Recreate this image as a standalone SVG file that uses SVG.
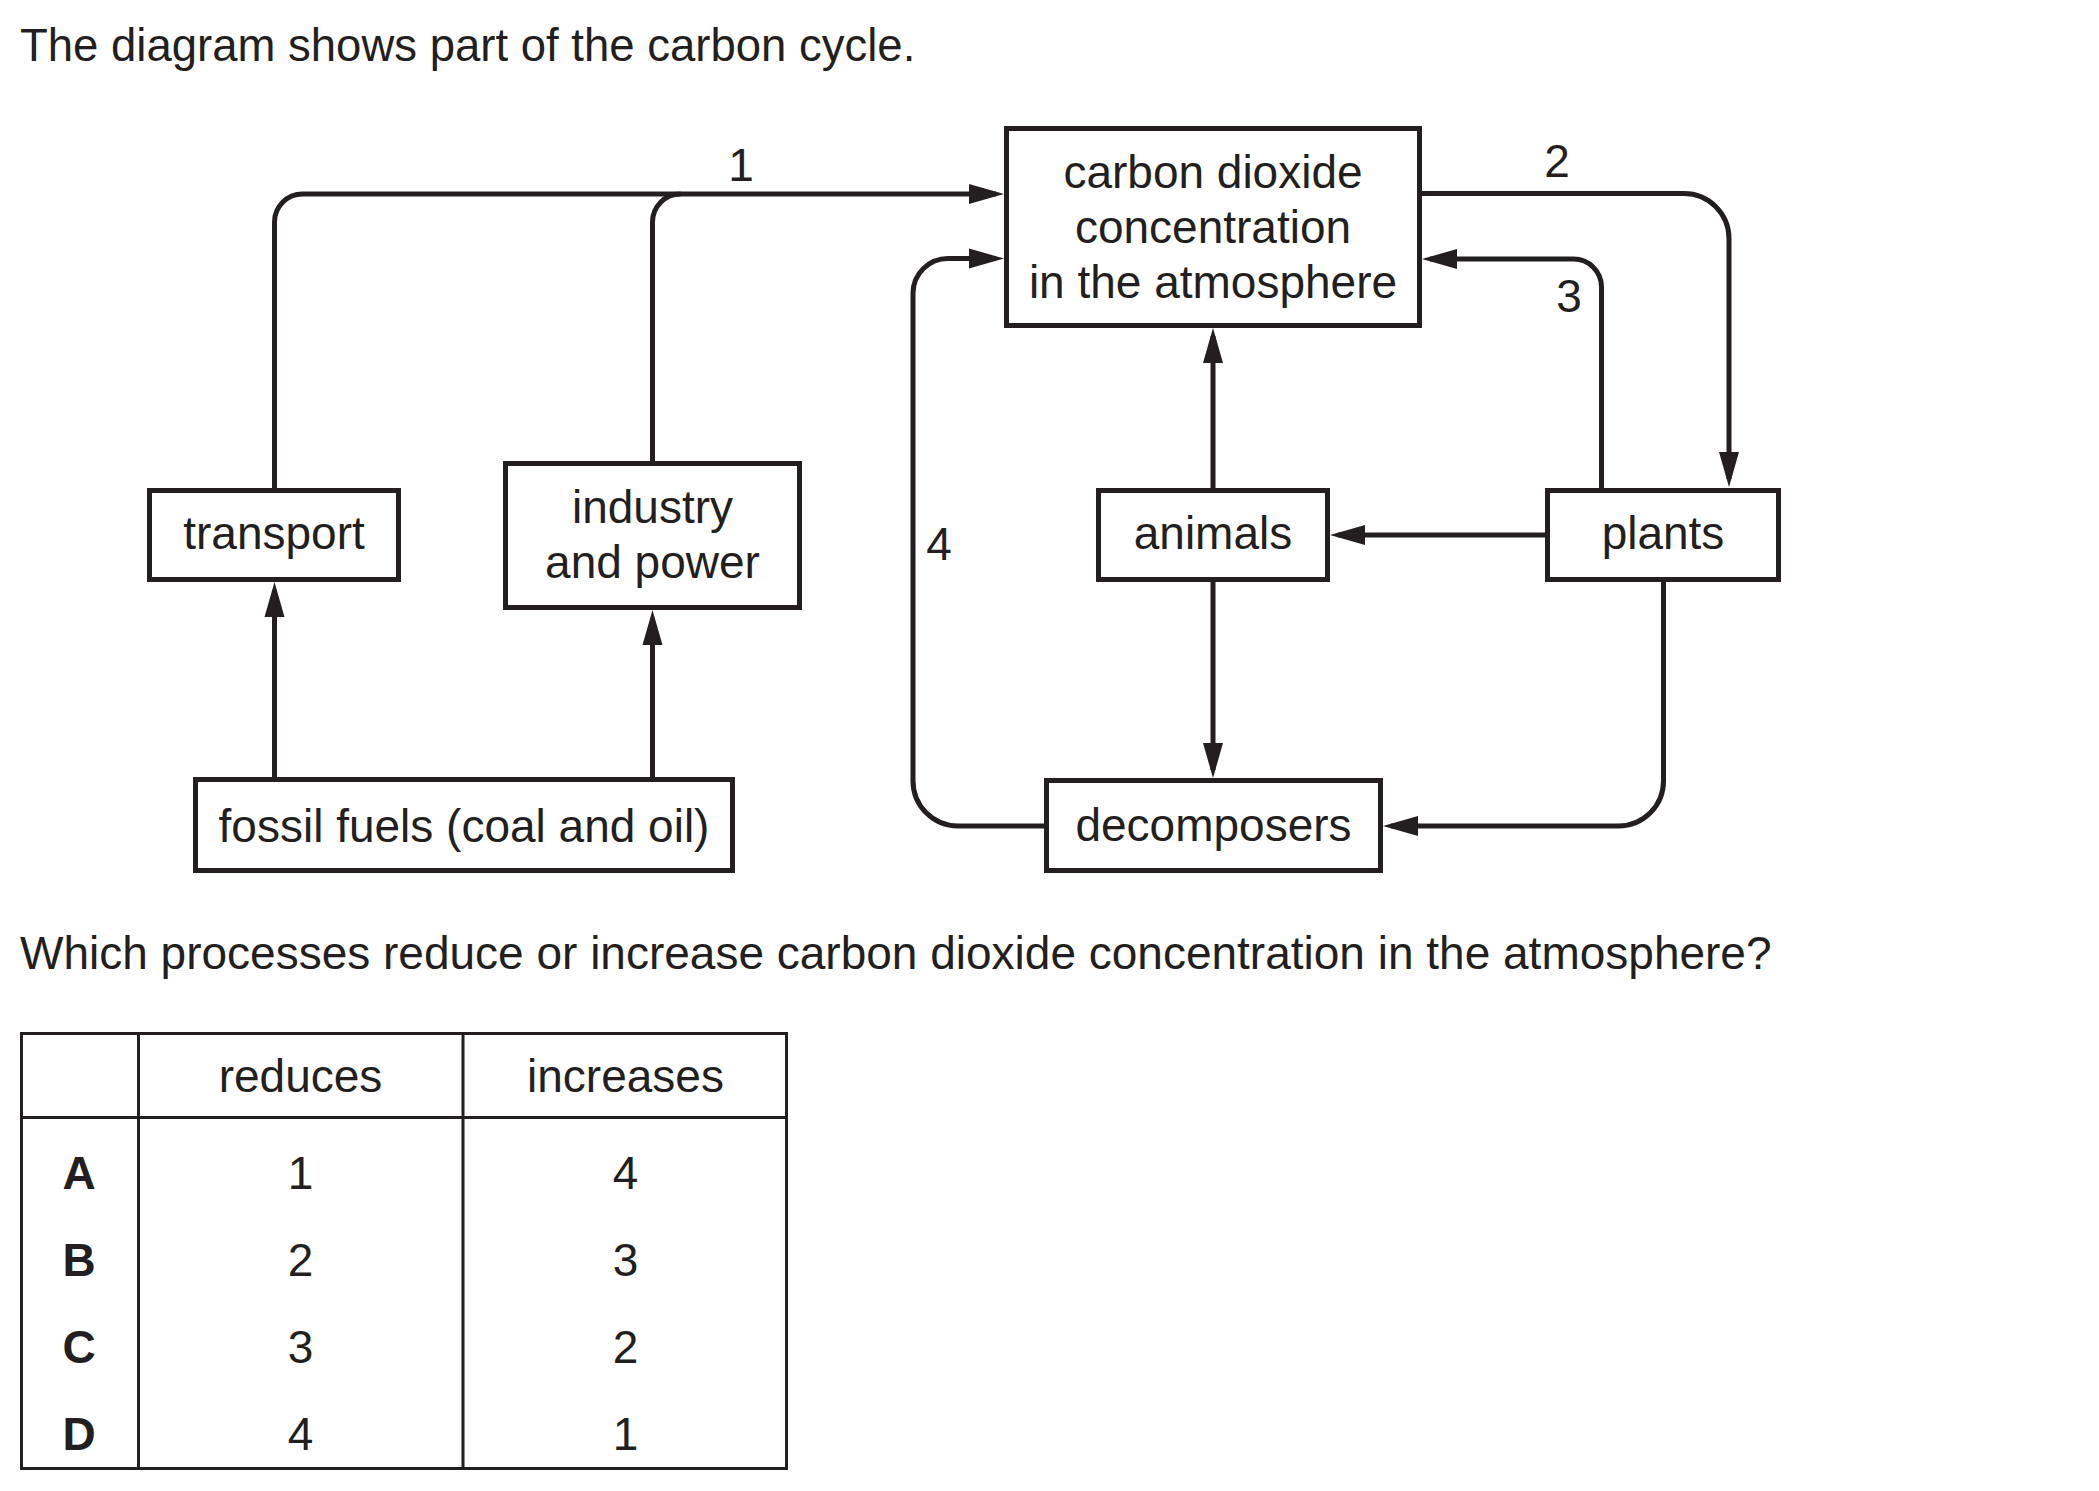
<svg xmlns="http://www.w3.org/2000/svg" width="2099" height="1491" viewBox="0 0 2099 1491">
<style>
text{font-family:"Liberation Sans",Arial,Helvetica,sans-serif;font-size:46px;fill:#231f20}
.c{text-anchor:middle}
.b{font-weight:bold}
.box{fill:#fff;stroke:#231f20;stroke-width:5}
.ln{fill:none;stroke:#231f20;stroke-width:5}
.arr{marker-end:url(#ah)}
.tb{fill:none;stroke:#231f20;stroke-width:3}
</style>
<defs>
<marker id="ah" markerUnits="userSpaceOnUse" markerWidth="36" markerHeight="20" refX="27" refY="10" orient="auto" overflow="visible">
<path d="M0,0 L35,10 L0,20 Z" fill="#231f20"/>
</marker>
</defs>
<rect width="2099" height="1491" fill="#fff"/>
<text x="20" y="61" style="font-size:45.5px">The diagram shows part of the carbon cycle.</text>

<g id="connectors">
<path class="ln arr" d="M274.5,488 V222 A28,28 0 0 1 302.5,194 H996"/>
<path class="ln" d="M652.5,461 V222 A28,28 0 0 1 680.5,194"/>
<path class="ln arr" d="M1422,193.5 H1684 A45,45 0 0 1 1729,238.5 V479"/>
<path class="ln arr" d="M1601.5,488 V287 A28,28 0 0 0 1573.5,259 H1430"/>
<path class="ln arr" d="M1044,826 H958 A45,45 0 0 1 913,781 V293 A35,35 0 0 1 948,258.5 H996"/>
<path class="ln arr" d="M1213,488 V336"/>
<path class="ln arr" d="M1545,535 H1338"/>
<path class="ln arr" d="M1213,582 V770"/>
<path class="ln arr" d="M1663.5,582 V781 A45,45 0 0 1 1618.5,826 H1391"/>
<path class="ln arr" d="M274.5,777 V590"/>
<path class="ln arr" d="M652.5,777 V618"/>
<text class="c" x="741" y="181">1</text>
<text class="c" x="1557" y="177">2</text>
<text class="c" x="1569" y="312">3</text>
<text class="c" x="939" y="560">4</text>
</g>

<g id="co2">
<rect class="box" x="1006.5" y="128.5" width="413" height="197"/>
<text class="c" x="1213" y="188">carbon dioxide</text>
<text class="c" x="1213" y="243">concentration</text>
<text class="c" x="1213" y="298">in the atmosphere</text>
</g>
<g id="transport">
<rect class="box" x="149.5" y="490.5" width="249" height="89"/>
<text class="c" x="274" y="549">transport</text>
</g>
<g id="industry">
<rect class="box" x="505.5" y="463.5" width="294" height="144"/>
<text class="c" x="652.5" y="523">industry</text>
<text class="c" x="652.5" y="578">and power</text>
</g>
<g id="fossil">
<rect class="box" x="195.5" y="779.5" width="537" height="91"/>
<text class="c" x="464" y="842">fossil fuels (coal and oil)</text>
</g>
<g id="animals">
<rect class="box" x="1098.5" y="490.5" width="229" height="89"/>
<text class="c" x="1213" y="549">animals</text>
</g>
<g id="plants">
<rect class="box" x="1547.5" y="490.5" width="231" height="89"/>
<text class="c" x="1663" y="549">plants</text>
</g>
<g id="decomposers">
<rect class="box" x="1046.5" y="780.5" width="334" height="90"/>
<text class="c" x="1213.5" y="841">decomposers</text>
</g>

<text x="20" y="969">Which processes reduce or increase carbon dioxide concentration in the atmosphere?</text>

<g id="table">
<rect class="tb" x="21.5" y="1033.5" width="765" height="435"/>
<path class="tb" d="M138.5,1032 V1470 M463,1032 V1470 M20,1117.5 H788"/>
<text class="c" x="300.5" y="1092">reduces</text>
<text class="c" x="625.5" y="1092">increases</text>
<text class="c b" x="79" y="1189">A</text>
<text class="c b" x="79" y="1276">B</text>
<text class="c b" x="79" y="1363">C</text>
<text class="c b" x="79" y="1450">D</text>
<text class="c" x="300.5" y="1189">1</text>
<text class="c" x="300.5" y="1276">2</text>
<text class="c" x="300.5" y="1363">3</text>
<text class="c" x="300.5" y="1450">4</text>
<text class="c" x="625.5" y="1189">4</text>
<text class="c" x="625.5" y="1276">3</text>
<text class="c" x="625.5" y="1363">2</text>
<text class="c" x="625.5" y="1450">1</text>
</g>
</svg>
